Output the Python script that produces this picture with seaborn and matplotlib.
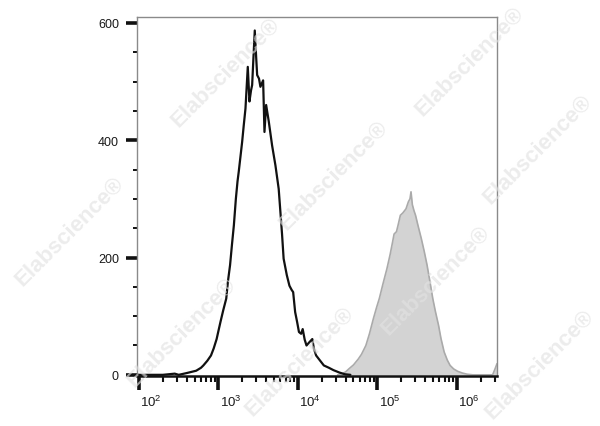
import numpy as np
import pandas as pd
import matplotlib
matplotlib.use("Agg")
import matplotlib.pyplot as plt
import matplotlib.transforms as mtransforms
from matplotlib.ticker import FixedLocator
import seaborn as sns

# unstained / control histogram (black outline), x as log10 of intensity
black_log10 = [1.98, 2.30, 2.45, 2.50, 2.60, 2.66, 2.72, 2.78, 2.81, 2.86, 2.906, 2.94, 2.977,
               3.00, 3.025, 3.06, 3.098, 3.12, 3.146, 3.17, 3.194, 3.219, 3.24, 3.255, 3.298,
               3.318, 3.34, 3.369, 3.39, 3.41, 3.424, 3.44, 3.457, 3.475, 3.487, 3.51, 3.528,
               3.562, 3.579, 3.60, 3.633, 3.675, 3.717, 3.758, 3.80, 3.82, 3.86, 3.893, 3.92,
               3.94, 3.965, 3.99, 4.013, 4.04, 4.06, 4.085, 4.108, 4.14, 4.181, 4.20, 4.229,
               4.28, 4.326, 4.39, 4.447, 4.52, 4.59, 4.66]
black_count = [0, 0, 2, 0, 3, 5, 7, 12, 16, 24, 33, 45, 61,
               75, 90, 110, 130, 160, 187, 222, 255, 300, 330, 346, 397,
               425, 454, 525, 466, 485, 494, 540, 587, 540, 511, 505, 491,
               502, 414, 460, 432, 391, 357, 317, 240, 198, 170, 152, 145,
               141, 107, 90, 73, 70, 78, 60, 50, 55, 61, 45, 33,
               24, 16, 12, 8, 4, 1, 0]

# stained sample histogram (grey filled)
grey_log10 = [4.50, 4.56, 4.60, 4.64, 4.70, 4.76, 4.80, 4.855, 4.90, 4.95, 4.99, 5.024, 5.07,
              5.12, 5.16, 5.192, 5.21, 5.24, 5.26, 5.289, 5.32, 5.36, 5.39, 5.41, 5.423,
              5.44, 5.46, 5.48, 5.51, 5.553, 5.59, 5.625, 5.66, 5.697, 5.73, 5.77, 5.80,
              5.84, 5.88, 5.915, 5.96, 6.01, 6.07, 6.13, 6.20, 6.45, 6.48, 6.505]
grey_count = [0, 2, 5, 10, 17, 27, 35, 50, 70, 96, 115, 130, 155,
              181, 205, 227, 240, 244, 255, 272, 276, 283, 295, 300, 312,
              290, 280, 272, 255, 232, 210, 187, 160, 130, 108, 84, 62,
              39, 25, 16, 10, 6, 3, 1, 0, 0, 10, 19]

x_decades = [2, 3, 4, 5, 6]
y_major = [0, 200, 400, 600]

df_black = pd.DataFrame({"fl": np.power(10.0, black_log10), "count": black_count})
df_grey = pd.DataFrame({"fl": np.power(10.0, grey_log10), "count": grey_count})

sns.set_style("white")
plt.rcParams["font.family"] = ["Liberation Sans", "DejaVu Sans"]
plt.rcParams["mathtext.default"] = "regular"

fig = plt.figure(figsize=(6.0, 4.27), dpi=100)
ax = fig.add_axes([137 / 600, 1 - 377 / 427, 360 / 600, 359 / 427])

ax.fill_between(df_grey["fl"], df_grey["count"], color="#d3d3d3", linewidth=0, zorder=1)
sns.lineplot(data=df_grey, x="fl", y="count", sort=False, color="#aaaaaa", linewidth=1.2, ax=ax, zorder=2)
sns.lineplot(data=df_black, x="fl", y="count", sort=False, color="#111111", linewidth=1.6, ax=ax, zorder=3)

ax.set_xscale("log")
ax.set_xlim(10 ** 1.975, 10 ** 6.505)
ax.set_ylim(-2, 610)
ax.set_xlabel("")
ax.set_ylabel("")

# ticks
majors = [10.0 ** d for d in x_decades]
minors = [m * 10.0 ** d for d in range(1, 7) for m in range(2, 10)]
ax.xaxis.set_major_locator(FixedLocator(majors))
ax.xaxis.set_minor_locator(FixedLocator(minors))
ax.set_xticklabels([f"$10^{{{d}}}$" for d in x_decades])
ax.yaxis.set_major_locator(FixedLocator(y_major))
ax.yaxis.set_minor_locator(FixedLocator(list(range(50, 600, 50))))
ax.set_yticklabels([str(v) for v in y_major])

ax.tick_params(axis="x", which="major", direction="out", length=10, width=2.6, color="#111111",
               labelsize=9.5, labelcolor="#1a1a1a", pad=3, bottom=True)
ax.tick_params(axis="x", which="minor", direction="out", length=4.5, width=1.5, color="#111111", bottom=True)
ax.tick_params(axis="y", which="major", direction="out", length=8, width=2.6, color="#111111",
               labelsize=9, labelcolor="#1a1a1a", pad=5, left=True)
ax.tick_params(axis="y", which="minor", direction="out", length=3, width=1.4, color="#111111", left=True)

# decade labels sit a bit right of their tick in the original
offset = mtransforms.ScaledTranslation(0.12, 0, fig.dpi_scale_trans)
for lab in ax.get_xticklabels():
    lab.set_transform(lab.get_transform() + offset)

for side in ["top", "right", "left"]:
    ax.spines[side].set_color("#8a8a8a")
    ax.spines[side].set_linewidth(1.0)
ax.spines["bottom"].set_color("#111111")
ax.spines["bottom"].set_linewidth(1.8)

# watermark (kept inside the canvas)
marks = [(226, 73), (334, 176), (470, 62), (538, 150), (70, 232), (182, 333),
         (436, 281), (300, 362), (540, 365)]
for mx, my in marks:
    fig.text(mx / 600, 1 - my / 427, "Elabscience\u00ae", rotation=45, fontsize=16, fontweight="bold",
             color="#e2e2e2", alpha=0.65, ha="center", va="center", rotation_mode="anchor", zorder=10)

fig.savefig("out.png", dpi=100)
